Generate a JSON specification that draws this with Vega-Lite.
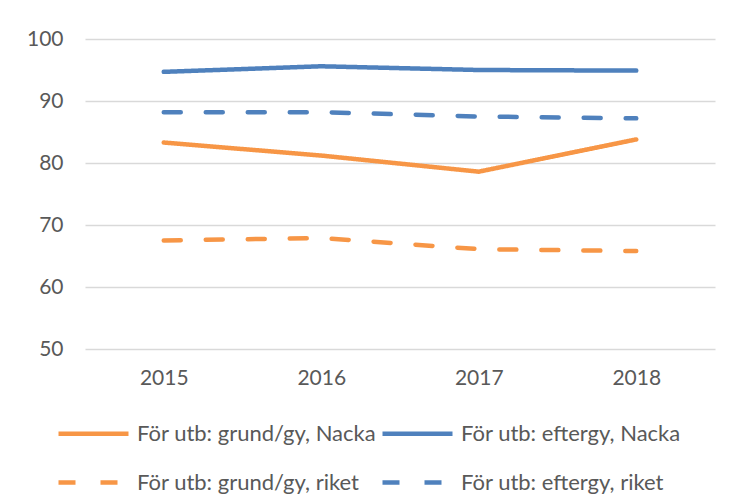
{
  "$schema": "https://vega.github.io/schema/vega-lite/v6.json",
  "width": 630,
  "height": 310,
  "autosize": {"type": "none"},
  "padding": {"left": 85, "top": 39, "right": 20, "bottom": 155},
  "background": "white",
  "data": {
    "values": [
      {"year": "2015", "series": "För utb: grund/gy, Nacka", "value": 83.3},
      {"year": "2016", "series": "För utb: grund/gy, Nacka", "value": 81.2},
      {"year": "2017", "series": "För utb: grund/gy, Nacka", "value": 78.6},
      {"year": "2018", "series": "För utb: grund/gy, Nacka", "value": 83.8},
      {"year": "2015", "series": "För utb: eftergy, Nacka", "value": 94.7},
      {"year": "2016", "series": "För utb: eftergy, Nacka", "value": 95.6},
      {"year": "2017", "series": "För utb: eftergy, Nacka", "value": 95.0},
      {"year": "2018", "series": "För utb: eftergy, Nacka", "value": 94.9},
      {"year": "2015", "series": "För utb: grund/gy, riket", "value": 67.5},
      {"year": "2016", "series": "För utb: grund/gy, riket", "value": 67.9},
      {"year": "2017", "series": "För utb: grund/gy, riket", "value": 66.1},
      {"year": "2018", "series": "För utb: grund/gy, riket", "value": 65.8},
      {"year": "2015", "series": "För utb: eftergy, riket", "value": 88.2},
      {"year": "2016", "series": "För utb: eftergy, riket", "value": 88.2},
      {"year": "2017", "series": "För utb: eftergy, riket", "value": 87.5},
      {"year": "2018", "series": "För utb: eftergy, riket", "value": 87.2}
    ]
  },
  "mark": {"type": "line", "strokeWidth": 4.5, "strokeCap": "round", "strokeJoin": "round"},
  "encoding": {
    "x": {
      "field": "year", "type": "ordinal",
      "scale": {"type": "point", "padding": 0.5},
      "axis": {"labelAngle": 0, "title": null, "domain": false, "ticks": false, "labelPadding": 18, "grid": false}
    },
    "y": {
      "field": "value", "type": "quantitative",
      "scale": {"domain": [50, 100]},
      "axis": {"values": [50, 60, 70, 80, 90, 100], "title": null, "domain": false, "ticks": false, "labelPadding": 22, "gridColor": "#D9D9D9", "gridWidth": 1.5}
    },
    "color": {
      "field": "series", "type": "nominal",
      "scale": {
        "domain": ["För utb: grund/gy, Nacka", "För utb: eftergy, Nacka", "För utb: grund/gy, riket", "För utb: eftergy, riket"],
        "range": ["#F79646", "#4F81BD", "#F79646", "#4F81BD"]
      },
      "legend": {"title": null}
    },
    "strokeDash": {
      "field": "series", "type": "nominal",
      "scale": {
        "domain": ["För utb: grund/gy, Nacka", "För utb: eftergy, Nacka", "För utb: grund/gy, riket", "För utb: eftergy, riket"],
        "range": [[1, 0], [1, 0], [17, 25], [17, 25]]
      },
      "legend": {"title": null}
    }
  },
  "config": {
    "font": "Lato",
    "view": {"stroke": null},
    "axis": {"labelFontSize": 21, "labelColor": "#595959", "labelFont": "Lato"},
    "legend": {
      "orient": "none",
      "legendX": -29,
      "legendY": 357,
      "direction": "horizontal",
      "columns": 2,
      "padding": 0,
      "symbolType": "stroke",
      "symbolSize": 4900,
      "symbolStrokeWidth": 4.5,
      "labelFontSize": 22,
      "labelColor": "#595959",
      "labelFont": "Lato",
      "labelOffset": 6,
      "columnPadding": -4,
      "rowPadding": -24.5,
      "labelLimit": 400
    }
  }
}
